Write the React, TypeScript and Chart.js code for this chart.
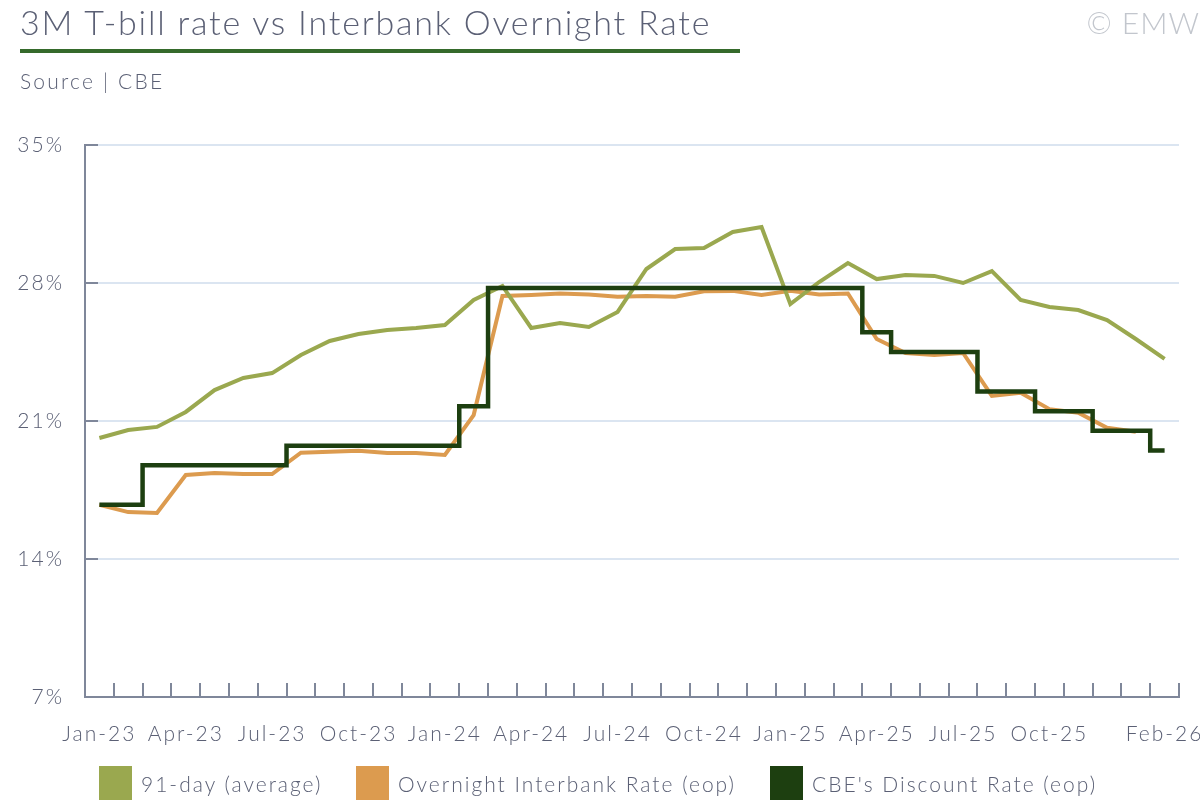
import React, { useEffect, useRef } from "react";
import { Chart, registerables } from "chart.js";

Chart.register(...registerables);

const months = [
  "Jan-23","Feb-23","Mar-23","Apr-23","May-23","Jun-23","Jul-23","Aug-23","Sep-23","Oct-23","Nov-23","Dec-23",
  "Jan-24","Feb-24","Mar-24","Apr-24","May-24","Jun-24","Jul-24","Aug-24","Sep-24","Oct-24","Nov-24","Dec-24",
  "Jan-25","Feb-25","Mar-25","Apr-25","May-25","Jun-25","Jul-25","Aug-25","Sep-25","Oct-25","Nov-25","Dec-25",
  "Jan-26","Feb-26",
];

const shownLabels = [
  "Jan-23","Apr-23","Jul-23","Oct-23","Jan-24","Apr-24","Jul-24","Oct-24","Jan-25","Apr-25","Jul-25","Oct-25","Feb-26",
];

const tbill91 = [
  20.14, 20.54, 20.7, 21.46, 22.57, 23.18, 23.43, 24.35, 25.06, 25.41, 25.62, 25.72,
  25.87, 27.14, 27.85, 25.72, 25.97, 25.77, 26.53, 28.71, 29.72, 29.78, 30.59, 30.84,
  26.93, 28.05, 29.01, 28.2, 28.4, 28.36, 28.0, 28.6, 27.14, 26.78, 26.63, 26.12,
  25.16, 24.15,
];

const interbank: (number | null)[] = [
  16.75, 16.38, 16.33, 18.26, 18.36, 18.31, 18.31, 19.39, 19.44, 19.49, 19.38, 19.38,
  19.28, 21.3, 27.34, 27.39, 27.47, 27.42, 27.3, 27.34, 27.3, 27.58, 27.6, 27.39,
  27.6, 27.42, 27.47, 25.16, 24.45, 24.35, 24.45, 22.27, 22.43, 21.6, 21.42, 20.66,
  20.46, null,
];

const discountRate = [
  16.75, 16.75, 18.75, 18.75, 18.75, 18.75, 18.75, 19.75, 19.75, 19.75, 19.75, 19.75,
  19.75, 21.75, 27.75, 27.75, 27.75, 27.75, 27.75, 27.75, 27.75, 27.75, 27.75, 27.75,
  27.75, 27.75, 27.75, 25.5, 24.5, 24.5, 24.5, 22.5, 22.5, 21.5, 21.5, 20.5,
  20.5, 19.5,
];

const yTicks = [7, 14, 21, 28, 35];

const seriesNames = ["91-day (average)", "Overnight Interbank Rate (eop)", "CBE's Discount Rate (eop)"];
const seriesColors = ["#9aa84f", "#dc9b4f", "#1d3f10"];

const FONT = "Lato, 'Open Sans', sans-serif";
const TEXT = "#5b6075";
const AXIS = "#7f879a";
const SPACING = "2px";

const spacingPlugin = {
  id: "spacing",
  beforeUpdate(chart: any) { chart.ctx.letterSpacing = SPACING; },
  beforeLayout(chart: any) { chart.ctx.letterSpacing = SPACING; },
  beforeDraw(chart: any) { chart.ctx.letterSpacing = SPACING; },
};

const innerTicks = {
  id: "innerTicks",
  afterDatasetsDraw(chart: any) {
    const { ctx, chartArea, scales } = chart;
    const x = scales.x;
    const y = scales.y;
    ctx.save();
    ctx.strokeStyle = AXIS;
    ctx.lineWidth = 2;
    ctx.beginPath();
    for (let k = 0; k <= months.length; k++) {
      const px = Math.round(x.getPixelForValue(k - 0.5));
      ctx.moveTo(px, chartArea.bottom);
      ctx.lineTo(px, chartArea.bottom - 14);
    }
    for (const v of yTicks) {
      const py = Math.round(y.getPixelForValue(v));
      ctx.moveTo(chartArea.left, py);
      ctx.lineTo(chartArea.left + 13, py);
    }
    ctx.stroke();
    ctx.restore();
  },
};

export default function App() {
  const ref = useRef<HTMLCanvasElement>(null);

  useEffect(() => {
    if (!ref.current) return;
    const chart = new Chart(ref.current, {
      type: "line",
      data: {
        labels: months,
        datasets: [
          {
            label: seriesNames[2],
            data: discountRate,
            borderColor: seriesColors[2],
            backgroundColor: seriesColors[2],
            borderWidth: 4.5,
            stepped: "middle",
            pointRadius: 0,
            order: 0,
          },
          {
            label: seriesNames[0],
            data: tbill91,
            borderColor: seriesColors[0],
            backgroundColor: seriesColors[0],
            borderWidth: 4,
            tension: 0,
            pointRadius: 0,
            order: 1,
          },
          {
            label: seriesNames[1],
            data: interbank,
            borderColor: seriesColors[1],
            backgroundColor: seriesColors[1],
            borderWidth: 4,
            tension: 0,
            pointRadius: 0,
            order: 2,
          },
        ],
      },
      options: {
        animation: false,
        responsive: false,
        devicePixelRatio: 1,
        layout: { padding: { top: 145, right: 21, bottom: 0, left: 0 } },
        plugins: { legend: { display: false }, tooltip: { enabled: false } },
        scales: {
          x: {
            offset: true,
            afterFit: (s: any) => {
              s.height = 103;
              s.paddingLeft = 0;
              s.paddingRight = 0;
            },
            grid: { display: false, drawTicks: false },
            border: { display: true, color: AXIS, width: 2 },
            ticks: {
              autoSkip: false,
              maxRotation: 0,
              padding: 25,
              color: TEXT,
              font: { family: FONT, size: 21, weight: 300 as any },
              callback: (_v: any, i: number) =>
                shownLabels.includes(months[i]) ? months[i] : "",
            },
          },
          y: {
            min: 7,
            max: 35,
            afterFit: (s: any) => {
              s.width = 85;
              s.paddingTop = 0;
              s.paddingBottom = 0;
            },
            afterBuildTicks: (s: any) => { s.ticks = yTicks.map((v) => ({ value: v })); },
            grid: { color: "#dbe5f1", lineWidth: 2, drawTicks: false },
            border: { display: true, color: AXIS, width: 2 },
            ticks: {
              padding: 21,
              color: TEXT,
              font: { family: FONT, size: 21, weight: 300 as any },
              callback: (v: any) => `${v}%`,
            },
          },
        },
      },
      plugins: [spacingPlugin, innerTicks],
    });
    return () => chart.destroy();
  }, []);

  const legendX = [99, 356, 770];

  return (
    <div style={{ position: "absolute", left: 0, top: 0, width: 1200, height: 800, overflow: "hidden", background: "#fff", fontFamily: FONT }}>
      <canvas ref={ref} width={1200} height={800} style={{ position: "absolute", left: 0, top: 0 }} />
      <div style={{ position: "absolute", left: 20, top: 0, fontSize: 34, fontWeight: 300, letterSpacing: "1.8px", color: TEXT, whiteSpace: "nowrap", lineHeight: "44px" }}>
        3M T-bill rate vs Interbank Overnight Rate
      </div>
      <div style={{ position: "absolute", left: 20, top: 49, width: 720, height: 4, background: "#356a2b" }} />
      <div style={{ position: "absolute", left: 20, top: 67, fontSize: 21, fontWeight: 300, letterSpacing: "2.2px", color: TEXT, whiteSpace: "nowrap", lineHeight: "28px" }}>
        Source | CBE
      </div>
      <div style={{ position: "absolute", right: 0, top: 2, fontSize: 30, fontWeight: 300, letterSpacing: "1px", color: "#c2c6cd", whiteSpace: "nowrap", lineHeight: "40px" }}>
        © EMW
      </div>
      {seriesNames.map((n, i) => (
        <div key={n} style={{ position: "absolute", left: legendX[i], top: 766, height: 36, display: "flex", alignItems: "center", whiteSpace: "nowrap" }}>
          <div style={{ width: 33, height: 36, background: seriesColors[i], marginRight: 9 }} />
          <span style={{ fontSize: 21, fontWeight: 300, letterSpacing: "2px", color: TEXT, lineHeight: "24px" }}>{n}</span>
        </div>
      ))}
    </div>
  );
}
